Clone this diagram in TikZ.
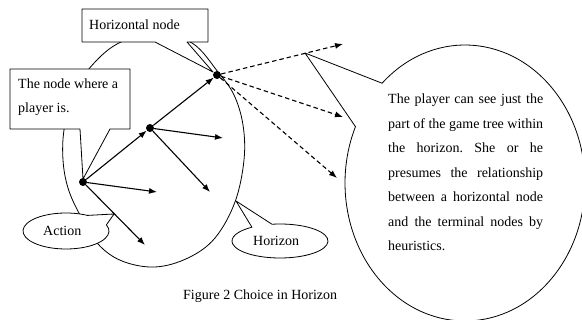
\documentclass[tikz,border=0pt]{standalone}
\usepackage{fontspec}
\setmainfont{Liberation Serif}
\usetikzlibrary{arrows.meta,calc}
\newcommand\fsz{\fontsize{14}{17}\selectfont\frenchspacing}
\tikzset{
  outl/.style={draw=black, line width=0.8pt, fill=white, line join=round},
  hline/.style={draw=black, line width=0.8pt},
  dotnode/.style={circle, fill=black, inner sep=0pt, minimum size=8pt},
  arr/.style={line width=1.1pt, -{Latex[length=8pt,width=6pt]}},
  darr/.style={arr, dash pattern=on 4.5pt off 3pt},
  txt/.style={inner sep=0pt, anchor=base west, font=\fsz},
}
\begin{document}
\begin{tikzpicture}[x=1pt,y=-1pt]
\useasboundingbox (0,0) rectangle (582,320);
% key points
\coordinate (n0) at (83,182);
\coordinate (n1) at (150,128);
\coordinate (n2) at (217,75);
\coordinate (e1) at (157,192);
\coordinate (e2) at (145,245);
\coordinate (e3) at (223,138);
\coordinate (e4) at (210,192);
\coordinate (d1) at (343,44);
\coordinate (d2) at (343,117);
\coordinate (d3) at (337,178);
% horizon
\draw[hline] plot[smooth cycle, tension=0.6] coordinates {
 (155,34) (192,43) (218,72) (234,95) (243,125) (244,160) (235,202)
 (215,238) (188,258) (155,267) (122,261) (98,244) (80,215) (68,188) (63,160)
 (64,130) (72,98) (88,70) (117,44)};
% callout: horizontal node
\coordinate (hntip) at (213,72);
\draw[outl] (82,9) -- (208,9) -- (208,42) -- (187,42) -- (hntip) -- (155,42) -- (82,42) -- cycle;
% callout: node where player is
\coordinate (pltip) at (83,179);
\draw[outl] (10,69) -- (130,69) -- (130,129) -- (110,129) -- (pltip) -- (80,129) -- (10,129) -- cycle;
% callout: action
\coordinate (ac) at (66,231);
\coordinate (actip) at (114,214);
\draw[outl] ($(ac)+(-20:43 and 18)$) arc[start angle=-20, end angle=300, x radius=43, y radius=18] -- (actip) -- cycle;
% callout: horizon
\coordinate (hc) at (280,241);
\coordinate (hotip) at (236,201);
\draw[outl] ($(hc)+(260.4:48 and 17)$) arc[start angle=260.4, end angle=594.2, x radius=48, y radius=17] -- (hotip) -- cycle;
% callout: big oval
\coordinate (bc) at (465,183);
\coordinate (bgtip) at (305,53);
\draw[outl] ($(bc)+(226.3:120 and 138)$) arc[start angle=226.3, end angle=564.1, x radius=120, y radius=138] -- (bgtip) -- cycle;
% texts
\node[txt] (thn) at (89,30) {Horizontal node};
\node[txt] (tp1) at (18,89) {The node where a};
\node[txt] (tp2) at (18,113) {player is.};
\node[txt] (tac) at (43,236) {Action};
\node[txt] (tho) at (253,246) {Horizon};
\node[txt] (b1) at (388,104) {\makebox[155pt][s]{The player can see just the}};
\node[txt] (b2) at (388,128.5) {\makebox[155pt][s]{part of the game tree within}};
\node[txt] (b3) at (388,153) {\makebox[155pt][s]{the horizon. She or he}};
\node[txt] (b4) at (388,177.5) {\makebox[155pt][s]{presumes the relationship}};
\node[txt] (b5) at (388,202) {\makebox[155pt][s]{between a horizontal node}};
\node[txt] (b6) at (388,226.5) {\makebox[155pt][s]{and the terminal nodes by}};
\node[txt] (b7) at (388,251) {heuristics.};
\node[txt] (cap) at (183,300) {Figure 2 Choice in Horizon};
% tree
\node[dotnode] (p0) at (n0) {};
\node[dotnode] (p1) at (n1) {};
\node[dotnode] (p2) at (n2) {};
\draw[arr] (p0) -- (p1);
\draw[arr] (p0) -- (e1);
\draw[arr] (p0) -- (e2);
\draw[arr] (p1) -- (p2);
\draw[arr] (p1) -- (e3);
\draw[arr] (p1) -- (e4);
\draw[darr] (p2) -- (d1);
\draw[darr] (p2) -- (d2);
\draw[darr] (p2) -- (d3);
\end{tikzpicture}
\end{document}
